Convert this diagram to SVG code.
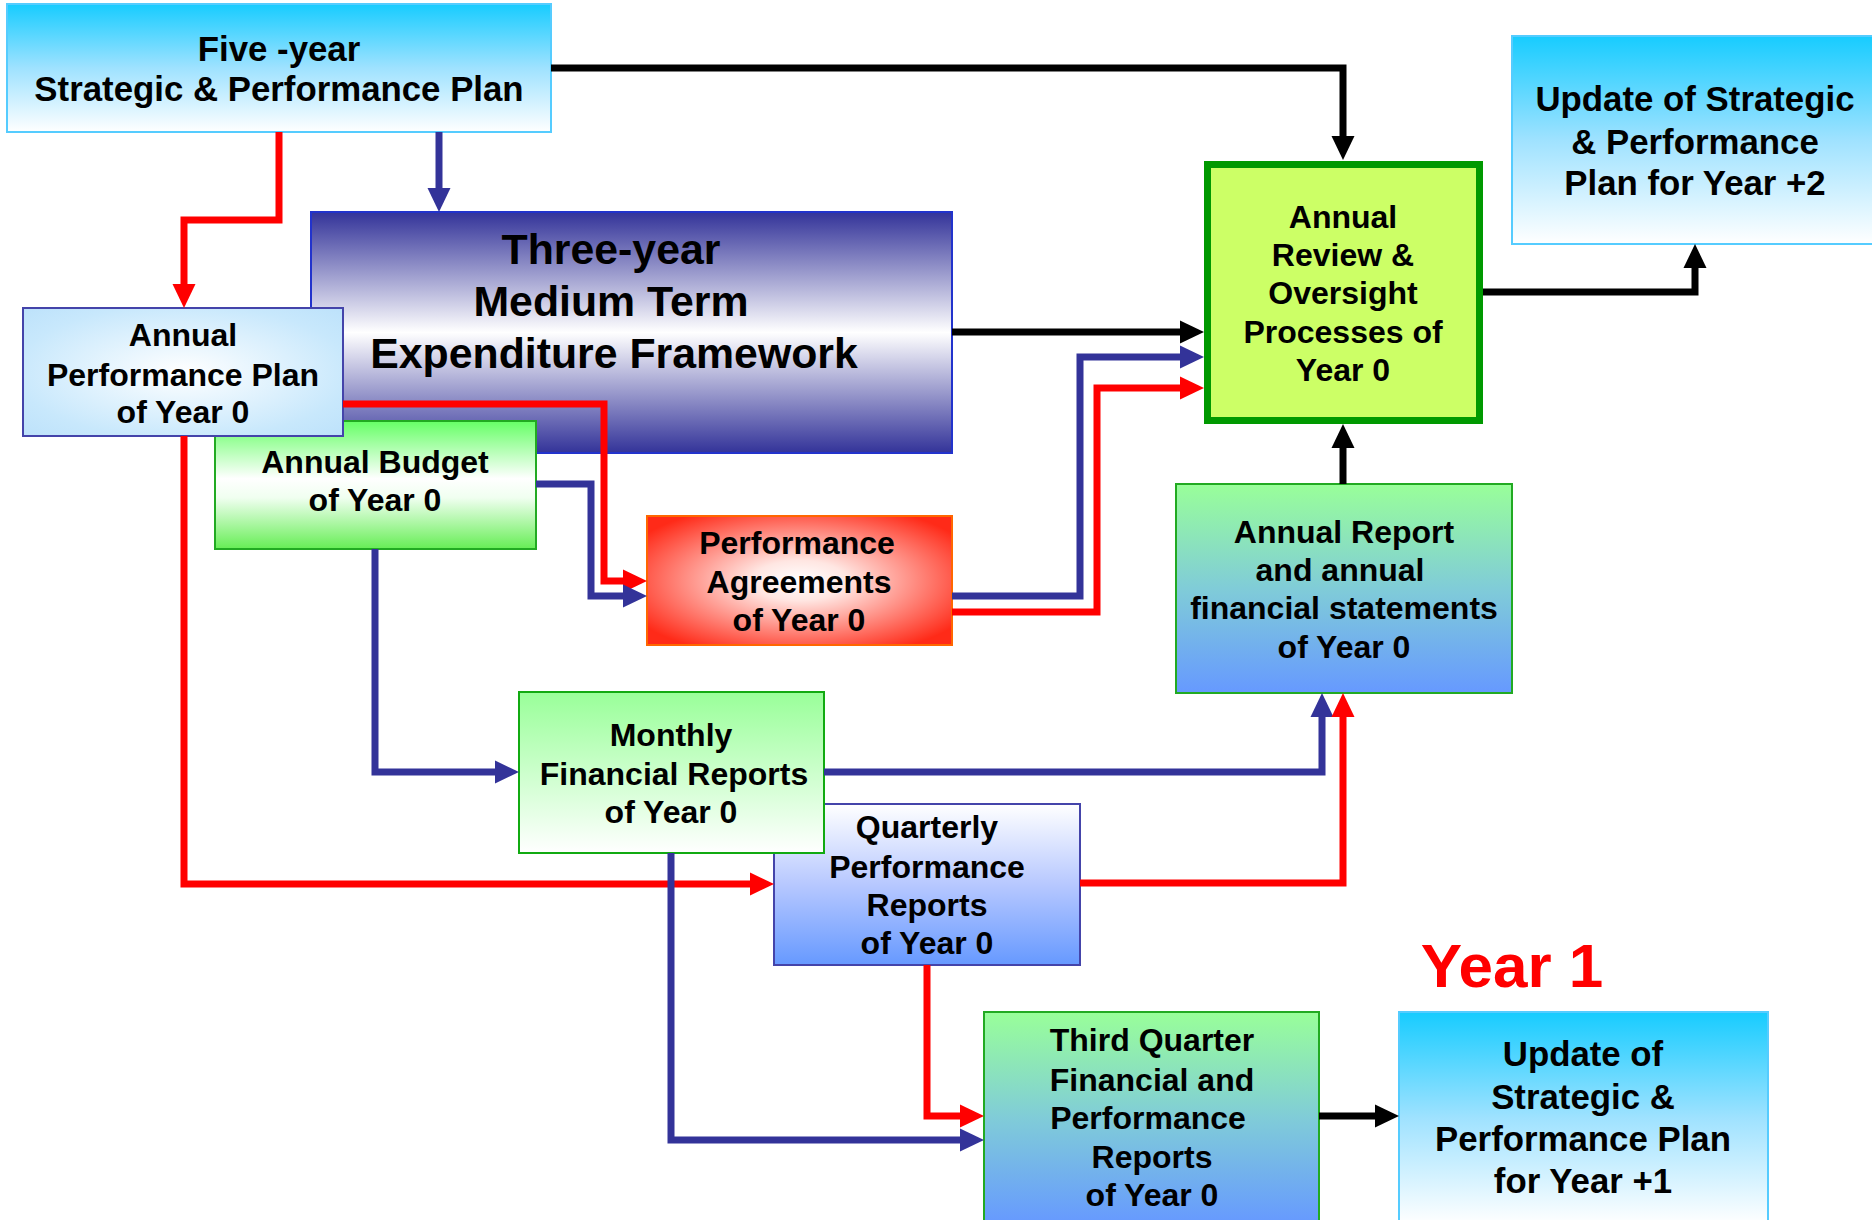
<svg xmlns="http://www.w3.org/2000/svg" width="1872" height="1220" viewBox="0 0 1872 1220">
  <defs>
    <linearGradient id="gCyan" x1="0" y1="0" x2="0" y2="1">
      <stop offset="0" stop-color="#17ccff"/>
      <stop offset="0.5" stop-color="#9fe2ff"/>
      <stop offset="1" stop-color="#ffffff"/>
    </linearGradient>
    <linearGradient id="gMtef" x1="0" y1="0" x2="0" y2="1">
      <stop offset="0" stop-color="#333399"/>
      <stop offset="0.5" stop-color="#ffffff"/>
      <stop offset="1" stop-color="#333399"/>
    </linearGradient>
    <radialGradient id="gApp" cx="0.5" cy="0.5" r="0.7">
      <stop offset="0" stop-color="#ffffff"/>
      <stop offset="0.75" stop-color="#c8e8fc"/>
      <stop offset="1" stop-color="#bde2fb"/>
    </radialGradient>
    <linearGradient id="gBudget" x1="0" y1="0" x2="0" y2="1">
      <stop offset="0" stop-color="#66ff66"/>
      <stop offset="0.45" stop-color="#ffffff"/>
      <stop offset="0.6" stop-color="#f0fff0"/>
      <stop offset="1" stop-color="#66ee55"/>
    </linearGradient>
    <radialGradient id="gPa" cx="0.5" cy="0.5" r="0.62">
      <stop offset="0" stop-color="#ffffff"/>
      <stop offset="0.25" stop-color="#ffe6e2"/>
      <stop offset="1" stop-color="#ff2a18"/>
    </radialGradient>
    <linearGradient id="gMonthly" x1="0" y1="0" x2="0" y2="1">
      <stop offset="0" stop-color="#99ff99"/>
      <stop offset="1" stop-color="#ffffff"/>
    </linearGradient>
    <linearGradient id="gGreenBlue" x1="0" y1="0" x2="0" y2="1">
      <stop offset="0" stop-color="#99ff99"/>
      <stop offset="0.5" stop-color="#80ccd8"/>
      <stop offset="1" stop-color="#6699ff"/>
    </linearGradient>
    <linearGradient id="gQuarterly" x1="0" y1="0" x2="0" y2="1">
      <stop offset="0" stop-color="#ffffff"/>
      <stop offset="0.5" stop-color="#b7c8ff"/>
      <stop offset="1" stop-color="#6699ff"/>
    </linearGradient>
    <marker id="ahBlack" viewBox="0 0 24 24" refX="0" refY="12" markerWidth="24" markerHeight="24" markerUnits="userSpaceOnUse" orient="auto">
      <path d="M0,0.5 L24,12 L0,23.5 Z" fill="#000000"/>
    </marker>
    <marker id="ahRed" viewBox="0 0 24 24" refX="0" refY="12" markerWidth="24" markerHeight="24" markerUnits="userSpaceOnUse" orient="auto">
      <path d="M0,0.5 L24,12 L0,23.5 Z" fill="#ff0000"/>
    </marker>
    <marker id="ahBlue" viewBox="0 0 24 24" refX="0" refY="12" markerWidth="24" markerHeight="24" markerUnits="userSpaceOnUse" orient="auto">
      <path d="M0,0.5 L24,12 L0,23.5 Z" fill="#333399"/>
    </marker>
  </defs>
  <style>
    text { font-family: "Liberation Sans", Arial, sans-serif; font-weight: bold; fill: #000000; text-anchor: middle; }
    .t32 { font-size: 32px; }
    .t34 { font-size: 34.8px; }
    .t42 { font-size: 42.8px; }
    .year { font-size: 62px; fill: #ff0000; }
    .link { fill: none; stroke-width: 7; stroke-linejoin: miter; stroke-linecap: butt; }
    .k { stroke: #000000; marker-end: url(#ahBlack); }
    .r { stroke: #ff0000; marker-end: url(#ahRed); }
    .b { stroke: #333399; marker-end: url(#ahBlue); }
  </style>

  <rect width="1872" height="1220" fill="#ffffff"/>

  <!-- Five-year plan -->
  <g id="five-year-plan">
    <rect x="7" y="4" width="544" height="128" fill="url(#gCyan)" stroke="#55ccff" stroke-width="2"/>
    <text class="t34" x="279" y="61">Five -year</text>
    <text class="t34" x="279" y="101">Strategic &amp; Performance Plan</text>
  </g>

  <!-- MTEF -->
  <g id="mtef">
    <rect x="311" y="212" width="641" height="241" fill="url(#gMtef)" stroke="#2233cc" stroke-width="2"/>
    <text class="t42" x="611" y="264">Three-year</text>
    <text class="t42" x="611" y="316">Medium Term</text>
    <text class="t42" x="614" y="368">Expenditure Framework</text>
  </g>

  <!-- Annual budget -->
  <g id="annual-budget">
    <rect x="215" y="421" width="321" height="128" fill="url(#gBudget)" stroke="#22aa22" stroke-width="2"/>
    <text class="t32" x="375" y="473">Annual Budget</text>
    <text class="t32" x="375" y="511">of Year 0</text>
  </g>

  <!-- Annual performance plan -->
  <g id="annual-performance-plan">
    <rect x="23" y="308" width="320" height="128" fill="url(#gApp)" stroke="#4444aa" stroke-width="2"/>
    <text class="t32" x="183" y="346">Annual</text>
    <text class="t32" x="183" y="386">Performance Plan</text>
    <text class="t32" x="183" y="423">of Year 0</text>
  </g>

  <!-- Performance agreements -->
  <g id="performance-agreements">
    <rect x="647" y="516" width="305" height="129" fill="url(#gPa)" stroke="#ff6600" stroke-width="2"/>
    <text class="t32" x="797" y="554">Performance</text>
    <text class="t32" x="799" y="593">Agreements</text>
    <text class="t32" x="799" y="631">of Year 0</text>
  </g>

  <!-- Annual review -->
  <g id="annual-review">
    <rect x="1207.5" y="164.5" width="272" height="256" fill="#ccff66" stroke="#009900" stroke-width="7"/>
    <text class="t32" x="1343" y="228">Annual</text>
    <text class="t32" x="1343" y="266">Review &amp;</text>
    <text class="t32" x="1343" y="304">Oversight</text>
    <text class="t32" x="1343" y="343">Processes of</text>
    <text class="t32" x="1343" y="381">Year 0</text>
  </g>

  <!-- Update year +2 -->
  <g id="update-year-2">
    <rect x="1512" y="36" width="366" height="208" fill="url(#gCyan)" stroke="#55ccff" stroke-width="2"/>
    <text class="t34" x="1695" y="111">Update of Strategic</text>
    <text class="t34" x="1695" y="154">&amp; Performance</text>
    <text class="t34" x="1695" y="195">Plan for Year +2</text>
  </g>

  <!-- Annual report -->
  <g id="annual-report">
    <rect x="1176" y="484" width="336" height="209" fill="url(#gGreenBlue)" stroke="#22aa22" stroke-width="2"/>
    <text class="t32" x="1344" y="543">Annual Report</text>
    <text class="t32" x="1340" y="581">and annual</text>
    <text class="t32" x="1344" y="619">financial statements</text>
    <text class="t32" x="1344" y="658">of Year 0</text>
  </g>

  <!-- Quarterly reports -->
  <g id="quarterly-reports">
    <rect x="774" y="804" width="306" height="161" fill="url(#gQuarterly)" stroke="#4444aa" stroke-width="2"/>
    <text class="t32" x="927" y="838">Quarterly</text>
    <text class="t32" x="927" y="878">Performance</text>
    <text class="t32" x="927" y="916">Reports</text>
    <text class="t32" x="927" y="954">of Year 0</text>
  </g>

  <!-- Monthly reports -->
  <g id="monthly-reports">
    <rect x="519" y="692" width="305" height="161" fill="url(#gMonthly)" stroke="#11aa11" stroke-width="2"/>
    <text class="t32" x="671" y="746">Monthly</text>
    <text class="t32" x="674" y="785">Financial Reports</text>
    <text class="t32" x="671" y="823">of Year 0</text>
  </g>

  <!-- Third quarter reports -->
  <g id="third-quarter-reports">
    <rect x="984" y="1012" width="335" height="212" fill="url(#gGreenBlue)" stroke="#22aa22" stroke-width="2"/>
    <text class="t32" x="1152" y="1051">Third Quarter</text>
    <text class="t32" x="1152" y="1091">Financial and</text>
    <text class="t32" x="1148" y="1129">Performance</text>
    <text class="t32" x="1152" y="1168">Reports</text>
    <text class="t32" x="1152" y="1206">of Year 0</text>
  </g>

  <!-- Update year +1 -->
  <g id="update-year-1">
    <rect x="1399" y="1012" width="369" height="212" fill="url(#gCyan)" stroke="#55ccff" stroke-width="2"/>
    <text class="t34" x="1583" y="1066">Update of</text>
    <text class="t34" x="1583" y="1109">Strategic &amp;</text>
    <text class="t34" x="1583" y="1151">Performance Plan</text>
    <text class="t34" x="1583" y="1193">for Year +1</text>
  </g>

  <text class="year" x="1512" y="987">Year 1</text>

  <!-- Connectors -->
  <g id="connectors">
    <path class="link k" d="M551,68 H1343 V136"/>
    <path class="link r" d="M279,132 V220 H184 V284"/>
    <path class="link b" d="M439,132 V188"/>
    <path class="link k" d="M952,332 H1180"/>
    <path class="link b" d="M952,596 H1080 V357 H1180"/>
    <path class="link r" d="M952,612 H1097 V388 H1180"/>
    <path class="link k" d="M1483,292 H1695 V268"/>
    <path class="link k" d="M1343,484 V448"/>
    <path class="link r" d="M343,404 H604 V581 H623"/>
    <path class="link b" d="M536,484 H591 V596 H623"/>
    <path class="link b" d="M375,549 V772 H495"/>
    <path class="link r" d="M184,436 V884 H750"/>
    <path class="link b" d="M824,772 H1322 V717"/>
    <path class="link r" d="M1080,883 H1343 V717"/>
    <path class="link b" d="M671,853 V1140 H960"/>
    <path class="link r" d="M927,965 V1116 H960"/>
    <path class="link k" d="M1319,1116 H1375"/>
  </g>
</svg>
